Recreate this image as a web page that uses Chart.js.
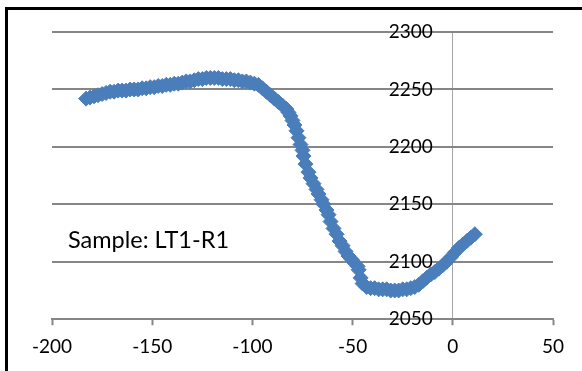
<!DOCTYPE html>
<html>
<head>
<meta charset="utf-8">
<script src="https://cdn.jsdelivr.net/npm/chart.js@4"></script>
<style>
    html, body { margin: 0; padding: 0; background: #fff; overflow: hidden; }
    #wrap { position: relative; width: 582px; height: 371px; overflow: hidden; }
    #frame {
        position: absolute; left: 5px; top: 7px; width: 600px; height: 400px;
        border-left: 3px solid #000; border-top: 3px solid #000;
        pointer-events: none;
    }
    #note {
        position: absolute; left: 68px; top: 225px;
        font-family: Lato, sans-serif; font-size: 23.5px; color: #000;
        white-space: nowrap;
    }
</style>
</head>
<body>
<div id="wrap">
    <canvas id="chart" width="582" height="371"></canvas>
    <div id="frame"></div>
    <div id="note">Sample: LT1-R1</div>
</div>
<script>
// Values
const xValues = [
    -183, -181, -179, -177, -175, -173, -171, -169, -167, -165,
    -163, -161, -159, -157, -155, -153, -151, -149, -147, -145,
    -143, -141, -139, -137, -135, -133, -131, -129, -127, -125,
    -123, -121, -119, -117, -115, -113, -111, -109, -107, -105,
    -103, -101, -99, -97, -95, -93, -91, -89, -87, -85,
    -83, -82, -81, -80, -79, -78, -77, -76, -75, -74.5,
    -73.5, -72, -71, -69.5, -68, -67, -65.5, -64.5, -63, -62,
    -61, -59.5, -58, -56.5, -55, -53.5, -52, -50.5, -49, -47.5,
    -47, -46, -45, -43, -41, -39, -37, -35, -33, -31,
    -29, -27, -25, -23, -21, -19, -17, -15, -13, -11,
    -9, -7, -5, -3, -1, 1, 3, 5, 7, 9, 11
];
const yValues = [
    2242, 2243, 2244, 2245, 2246, 2247, 2248, 2248, 2249, 2249,
    2249, 2250, 2250, 2250, 2251, 2251, 2252, 2252, 2253, 2253,
    2254, 2254, 2255, 2255, 2256, 2257, 2257, 2258, 2259, 2259,
    2260, 2260, 2260, 2260, 2259, 2259, 2259, 2258, 2258, 2257,
    2257, 2256, 2255, 2254, 2251, 2248, 2245, 2242, 2239, 2236,
    2233, 2230, 2227, 2223, 2219, 2214, 2208, 2202, 2197, 2192,
    2185, 2178, 2173, 2168, 2163, 2159, 2154, 2150, 2145, 2141,
    2135, 2129, 2124, 2118, 2114, 2109, 2105, 2102, 2099, 2096,
    2093, 2086, 2081, 2078, 2077, 2077, 2076, 2076, 2076, 2075,
    2075, 2075, 2076, 2076, 2077, 2078, 2080, 2083, 2086, 2089,
    2091, 2094, 2097, 2100, 2104, 2108, 2112, 2115, 2118, 2121, 2124
];
const xTicks = [-200, -150, -100, -50, 0, 50];
const yTicks = [2050, 2100, 2150, 2200, 2250, 2300];

const points = xValues.map((x, i) => ({ x: x, y: yValues[i] }));
const tickFont = { family: 'Lato', size: 19 };

new Chart(document.getElementById('chart'), {
    type: 'scatter',
    data: {
        datasets: [{
            data: points,
            pointStyle: 'rectRot',
            pointRadius: 7.5,
            pointBorderWidth: 1,
            backgroundColor: '#4a7ebb',
            borderColor: '#4a7ebb'
        }]
    },
    options: {
        responsive: false,
        animation: false,
        layout: { padding: { left: 52, right: 29, top: 32, bottom: 3 } },
        plugins: { legend: { display: false }, tooltip: { enabled: false } },
        scales: {
            x: {
                type: 'linear',
                min: -200,
                max: 50,
                afterBuildTicks: (scale) => { scale.ticks = xTicks.map(v => ({ value: v })); },
                ticks: { color: '#000', font: tickFont, padding: 10, maxRotation: 0,
                         callback: (v) => String(v) },
                grid: {
                    drawOnChartArea: true,
                    color: (ctx) => (ctx.tick && ctx.tick.value === 0) ? '#a6a6a6' : 'rgba(0,0,0,0)',
                    lineWidth: 1,
                    tickLength: 6,
                    tickColor: '#868686',
                    tickWidth: 2
                },
                border: { color: '#868686', width: 2 }
            },
            y: {
                type: 'linear',
                position: { x: -10 },
                min: 2050,
                max: 2300,
                afterBuildTicks: (scale) => { scale.ticks = yTicks.map(v => ({ value: v })); },
                ticks: { color: '#000', font: tickFont, padding: 0, z: 1,
                         callback: (v) => String(v) },
                grid: { color: '#868686', lineWidth: 2, drawTicks: false },
                border: { display: false }
            }
        }
    }
});
</script>
</body>
</html>
